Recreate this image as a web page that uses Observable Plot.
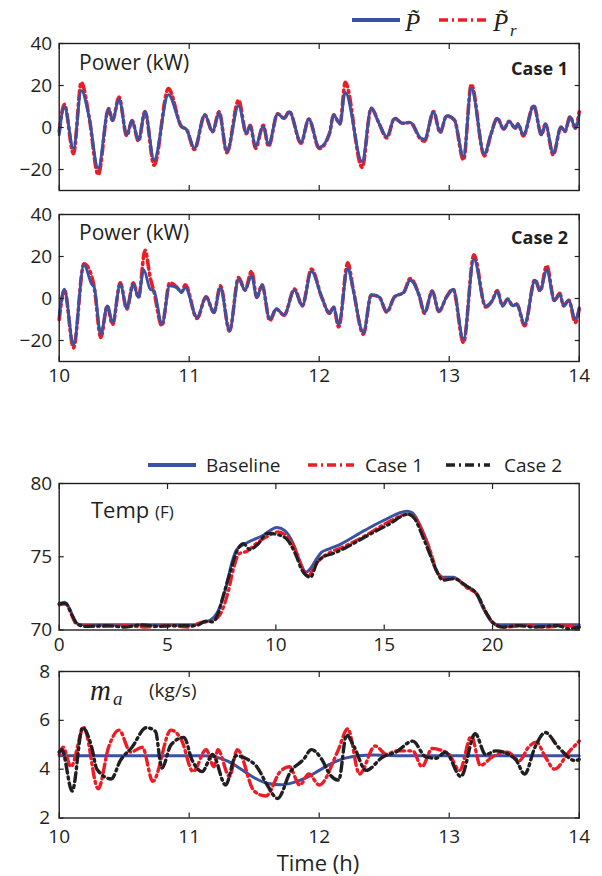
<!DOCTYPE html>
<html><head><meta charset="utf-8">
<script src="https://cdn.jsdelivr.net/npm/d3@7"></script>
<script src="https://cdn.jsdelivr.net/npm/@observablehq/plot@0.6"></script>
<style>
body{margin:0;background:#fff;overflow:hidden;font-family:"Open Sans",sans-serif;color:#231f20}
#root{position:relative;width:602px;height:876px;overflow:hidden}
.p{position:absolute;left:0}
#ov{position:absolute;left:0;top:0;pointer-events:none}
</style></head><body><div id="root"></div>
<script>
// ---------- data ----------
// Panel 1 (Case 1): power tracking, [time h, kW]
const p1P = [[10.00,-3.5],[10.04,10],[10.11,-10],[10.17,17.6],[10.23,5],[10.30,-19.4],[10.38,9],[10.41,3.3],[10.46,13.5],[10.52,-3.5],[10.56,3.3],[10.61,-6],[10.66,7.6],[10.73,-15.4],[10.84,15.6],[10.94,0.5],[10.98,-1],[11.04,-9.8],[11.12,6],[11.18,-2],[11.23,6.8],[11.29,-11.4],[11.38,10.3],[11.44,-2.7],[11.47,0.8],[11.51,-9],[11.57,0.8],[11.61,-8.3],[11.68,6.5],[11.73,4.4],[11.77,7.6],[11.86,-7],[11.92,4],[12.00,-9.4],[12.08,-2.7],[12.11,6],[12.16,1.7],[12.20,16.7],[12.33,-16.2],[12.40,9.2],[12.46,2],[12.52,-4.3],[12.58,4.4],[12.64,2],[12.70,2.4],[12.78,-5],[12.81,-5.6],[12.88,7.6],[12.93,-2.4],[12.98,5.6],[13.04,3.6],[13.11,-13.8],[13.17,18.7],[13.27,-12.5],[13.32,-3.5],[13.37,4.4],[13.42,-0.8],[13.46,2.9],[13.51,-0.3],[13.53,1.7],[13.57,-3.5],[13.65,10.3],[13.71,-3.5],[13.74,1.7],[13.80,-12.2],[13.86,0.2],[13.89,-1.9],[13.93,5.2],[13.97,-0.3],[14.00,6]];
const p1Pr = [[10.00,-2],[10.04,11],[10.11,-12.5],[10.17,21.5],[10.23,5],[10.30,-22.5],[10.38,9],[10.41,3.3],[10.46,14.5],[10.52,-4],[10.56,3.3],[10.61,-6.5],[10.66,7.6],[10.73,-18],[10.84,18.5],[10.94,0.5],[10.98,-1],[11.04,-10.5],[11.12,6],[11.18,-2],[11.23,7.5],[11.29,-12],[11.38,13],[11.44,-3],[11.47,1],[11.51,-10],[11.57,1],[11.61,-9],[11.68,6.5],[11.73,4.4],[11.77,7.6],[11.86,-7.5],[11.92,4],[12.00,-10],[12.08,-2.7],[12.11,6],[12.16,1.7],[12.20,21.5],[12.33,-19],[12.40,9.2],[12.46,2],[12.52,-5],[12.58,4.4],[12.64,2],[12.70,2.4],[12.78,-5.5],[12.81,-6.5],[12.88,7.6],[12.93,-2.4],[12.98,5.6],[13.04,3.6],[13.11,-15.5],[13.17,20.5],[13.27,-13.5],[13.32,-3.5],[13.37,4.4],[13.42,-0.8],[13.46,2.9],[13.51,-0.3],[13.53,1.7],[13.57,-4],[13.65,10.5],[13.71,-3.5],[13.74,1.7],[13.80,-13],[13.86,0.2],[13.89,-1.9],[13.93,5.2],[13.97,-0.3],[14.00,7.5]];
// Panel 2 (Case 2)
const p2P = [[10.00,-8.3],[10.04,4.4],[10.11,-22],[10.19,16],[10.25,6.8],[10.27,5.2],[10.32,-17],[10.37,-3.5],[10.41,-11.4],[10.47,6.8],[10.52,-4.6],[10.57,6.8],[10.61,0.5],[10.65,13.7],[10.70,4.4],[10.73,3.6],[10.79,-12.2],[10.85,6],[10.91,5],[10.94,2.9],[10.97,5.2],[11.06,-9],[11.13,0.8],[11.19,-6.7],[11.24,5.2],[11.31,-15.4],[11.38,9.2],[11.43,4],[11.48,10.8],[11.52,0.5],[11.56,6.3],[11.62,-9.8],[11.67,-5],[11.73,-7.8],[11.81,4],[11.87,-3.5],[11.94,12.9],[12.02,0.5],[12.08,-7.1],[12.11,-4],[12.15,-12.5],[12.22,14.4],[12.26,4.4],[12.34,-16.2],[12.40,1.7],[12.46,0.8],[12.52,-6.2],[12.58,0.8],[12.65,2.9],[12.70,8.7],[12.77,1.3],[12.81,-6.7],[12.87,3.6],[12.92,-6.2],[12.98,0.8],[13.03,4.4],[13.11,-19.4],[13.19,18.7],[13.28,-3.5],[13.33,-1.1],[13.37,3.3],[13.41,-3.5],[13.45,-0.3],[13.49,-3.5],[13.52,-2.7],[13.58,-12.2],[13.66,8.7],[13.70,3.6],[13.75,13.7],[13.81,-1.1],[13.85,2.1],[13.88,-3.5],[13.92,-0.8],[13.97,-9.8],[14.00,-4.3]];
const p2Pr = [[10.00,-10],[10.04,4],[10.11,-23.5],[10.19,16.5],[10.23,14],[10.27,5],[10.32,-18.5],[10.37,-3.5],[10.41,-12.5],[10.47,7.5],[10.52,-5],[10.57,7.5],[10.61,0.5],[10.66,23],[10.70,10],[10.73,3],[10.79,-13],[10.85,7.5],[10.91,5],[10.94,3],[10.97,6.5],[11.06,-9.5],[11.13,0.8],[11.19,-6.7],[11.24,6],[11.31,-15.5],[11.38,10],[11.43,4],[11.48,13],[11.52,0.5],[11.56,6.5],[11.62,-10.5],[11.67,-5],[11.73,-8],[11.81,4.5],[11.87,-3.5],[11.94,14],[12.02,0.5],[12.08,-7],[12.11,-4],[12.15,-13.5],[12.22,17],[12.26,5],[12.34,-17],[12.40,1.7],[12.46,0.8],[12.52,-6.5],[12.58,0.8],[12.65,2.9],[12.70,9.5],[12.77,1.3],[12.81,-7],[12.87,3.6],[12.92,-6.2],[12.98,0.8],[13.03,4.4],[13.11,-21],[13.19,20.8],[13.28,-4],[13.33,-1.1],[13.37,3.8],[13.41,-3.5],[13.45,-0.3],[13.49,-3.5],[13.52,-2.7],[13.58,-13],[13.66,9],[13.70,3.6],[13.75,15.6],[13.81,-1.1],[13.85,2.5],[13.88,-3.5],[13.92,-0.8],[13.97,-11.4],[14.00,-5]];
// Panel 3: temperature (F) over 24 h
const tempBase = [[0,71.8],[0.25,71.9],[0.5,71.4],[0.75,70.5],[1.1,70.35],[2,70.35],[4,70.35],[6.2,70.35],[6.6,70.5],[7.0,70.7],[7.3,71.2],[7.7,72.9],[7.95,74.5],[8.2,75.5],[8.6,75.9],[9.4,76.45],[10.05,77.0],[10.4,76.8],[10.8,75.9],[11.1,74.7],[11.4,73.95],[11.6,74.2],[11.9,74.9],[12.1,75.3],[12.4,75.5],[12.9,75.8],[14.1,76.8],[15.0,77.5],[16.05,78.1],[16.3,78.0],[16.7,77.0],[17.05,75.7],[17.3,74.4],[17.7,73.6],[18.2,73.6],[18.65,73.1],[19.2,72.6],[19.6,71.4],[20.0,70.5],[20.3,70.35],[22,70.35],[24,70.35]];
const tempCase1 = [[0,71.7],[0.3,71.8],[0.55,71.1],[0.8,70.4],[1.2,70.3],[2.0,70.25],[3.0,70.3],[4.0,70.2],[5.0,70.3],[6.0,70.2],[6.5,70.5],[7.0,70.6],[7.4,71.0],[7.8,72.6],[8.05,74.2],[8.3,75.2],[8.7,75.4],[9.0,75.8],[9.5,76.3],[10.1,76.7],[10.5,76.4],[10.9,75.5],[11.2,74.3],[11.5,73.7],[11.8,74.4],[12.1,74.9],[12.5,75.3],[13.0,75.6],[14.2,76.5],[15.1,77.3],[16.1,77.9],[16.4,77.7],[16.8,76.6],[17.15,75.3],[17.4,74.1],[17.8,73.5],[18.3,73.5],[18.8,72.9],[19.3,72.4],[19.7,71.2],[20.1,70.4],[20.5,70.2],[21.5,70.3],[22.5,70.2],[23.3,70.3],[24,70.2]];
const tempCase2 = [[0,71.8],[0.3,71.8],[0.6,71.0],[0.85,70.4],[1.2,70.25],[2.2,70.3],[3.0,70.2],[3.8,70.35],[4.6,70.25],[5.5,70.3],[6.3,70.3],[6.8,70.6],[7.1,70.55],[7.3,71.0],[7.6,72.5],[7.9,74.0],[8.15,75.2],[8.5,75.9],[8.8,75.5],[9.2,75.9],[9.6,76.6],[10.1,76.5],[10.5,76.2],[10.9,75.2],[11.2,74.1],[11.6,73.6],[11.9,74.6],[12.2,75.0],[12.6,75.2],[13.2,75.6],[14.3,76.5],[15.2,77.2],[16.1,77.9],[16.4,77.6],[16.8,76.3],[17.1,75.2],[17.4,74.1],[17.7,73.4],[18.2,73.5],[18.8,73.0],[19.3,72.4],[19.7,71.2],[20.1,70.4],[20.5,70.2],[21.2,70.3],[22.0,70.2],[23.0,70.3],[23.5,70.1],[24,70.2]];
// Panel 4: air mass flow (kg/s)
const maBase = [[10,4.55],[11.1,4.55],[11.2,4.5],[11.3,4.32],[11.4,4.0],[11.5,3.65],[11.6,3.42],[11.7,3.36],[11.8,3.45],[11.9,3.65],[12.0,3.95],[12.1,4.25],[12.2,4.45],[12.3,4.55],[12.42,4.58],[12.6,4.55],[14,4.55]];
const maCase1 = [[10.00,4.6],[10.03,4.9],[10.09,4.1],[10.19,5.7],[10.30,3.2],[10.38,4.9],[10.46,5.6],[10.55,4.7],[10.64,4.9],[10.72,3.5],[10.86,5.6],[10.94,5.2],[11.03,3.9],[11.13,4.8],[11.19,4.1],[11.22,4.8],[11.31,3.7],[11.37,4.8],[11.50,3.1],[11.59,2.9],[11.70,3.9],[11.77,4.1],[11.85,3.35],[11.92,3.8],[12.00,3.35],[12.14,4.7],[12.22,5.65],[12.31,3.8],[12.43,4.95],[12.52,4.6],[12.59,4.75],[12.72,4.75],[12.79,4.1],[12.87,4.85],[12.95,4.75],[13.00,4.6],[13.08,3.95],[13.17,5.35],[13.24,4.15],[13.33,4.5],[13.45,4.7],[13.54,4.35],[13.61,4.9],[13.67,5.1],[13.74,4.5],[13.81,4.0],[13.92,4.7],[14.00,5.15]];
const maCase2 = [[10.00,4.7],[10.02,4.8],[10.10,3.1],[10.18,5.7],[10.25,4.9],[10.29,4.0],[10.40,3.6],[10.47,4.35],[10.56,4.9],[10.67,5.7],[10.74,5.55],[10.79,4.05],[10.86,5.0],[10.96,5.3],[11.02,4.4],[11.10,3.9],[11.18,4.6],[11.28,3.35],[11.36,4.55],[11.45,4.4],[11.52,4.1],[11.60,3.35],[11.68,2.8],[11.78,3.9],[11.88,4.4],[11.94,4.8],[12.02,4.4],[12.08,3.8],[12.15,3.55],[12.21,5.4],[12.27,4.9],[12.36,3.95],[12.49,4.5],[12.59,4.7],[12.72,5.15],[12.82,4.5],[12.90,4.45],[12.97,4.7],[13.09,3.7],[13.20,5.45],[13.28,4.6],[13.36,4.75],[13.51,4.4],[13.58,3.8],[13.66,4.9],[13.74,5.5],[13.84,4.9],[13.97,4.35],[14.00,4.4]];
// ticks
const hourTicks = [10, 11, 12, 13, 14];
const dayTicks = [0, 5, 10, 15, 20];
const powerTicks = [-20, 0, 20, 40];
const tempTicks = [70, 75, 80];
const maTicks = [2, 4, 6, 8];

// ---------- style ----------
const BLUE = "#3953a4", RED = "#ed1c24", BLACK = "#231f20", INK = "#231f20";
const DASH = "9,4,2,4";
const FONT = '"Open Sans", sans-serif';
const fmt = d => d < 0 ? "\u2212" + Math.abs(d) : String(d);
const root = document.getElementById("root");

function panel({top, height, mt, mb, xDomain, xTicks, showX, xPad = 12, yPad = 12, yDomain, yTicks, marks}) {
  const svg = Plot.plot({
    width: 602, height, marginLeft: 58.7, marginRight: 23.3, marginTop: mt, marginBottom: mb,
    x: {domain: xDomain}, y: {domain: yDomain},
    style: {fontFamily: FONT, fontSize: "19px", color: INK, background: "transparent", overflow: "visible"},
    marks: [
      ...marks,
      Plot.frame({stroke: INK, strokeWidth: 1.4}),
      Plot.axisY(yTicks, {anchor: "left", tickSize: -5, tickPadding: yPad, tickFormat: fmt, label: null, strokeWidth: 1.2}),
      Plot.axisY(yTicks, {anchor: "right", tickSize: -5, tickFormat: () => "", label: null, strokeWidth: 1.2}),
      Plot.axisX(xTicks, {anchor: "bottom", tickSize: -5, tickPadding: xPad, tickFormat: showX ? fmt : () => "", label: null, strokeWidth: 1.2}),
      Plot.axisX(xTicks, {anchor: "top", tickSize: -5, tickFormat: () => "", label: null, strokeWidth: 1.2})
    ]
  });
  svg.classList.add("p");
  svg.style.top = top + "px";
  root.appendChild(svg);
}
const X = d => d[0], Y = d => d[1];
const lineOpts = (stroke, w, dash) => ({x: X, y: Y, stroke, strokeWidth: w, strokeDasharray: dash, curve: "monotone-x", strokeLinejoin: "round"});

panel({top: 33, height: 167, mt: 10, mb: 10, xDomain: [10, 14], xTicks: hourTicks, showX: false, yDomain: [-30, 40], yTicks: powerTicks,
  marks: [Plot.line(p1Pr, lineOpts(RED, 3.6, DASH)), Plot.line(p1P, lineOpts(BLUE, 2.8))]});
panel({top: 204, height: 187, mt: 10, mb: 30, xDomain: [10, 14], xTicks: hourTicks, showX: true, yDomain: [-30, 40], yTicks: powerTicks,
  marks: [Plot.line(p2Pr, lineOpts(RED, 3.6, DASH)), Plot.line(p2P, lineOpts(BLUE, 2.8))]});
panel({top: 473, height: 185, mt: 10, mb: 28.5, xDomain: [0, 24], xTicks: dayTicks, showX: true, yDomain: [70, 80], yTicks: tempTicks,
  marks: [Plot.line(tempBase, lineOpts(BLUE, 3)), Plot.line(tempCase1, lineOpts(RED, 3.2, DASH)), Plot.line(tempCase2, lineOpts(BLACK, 3.2, DASH))]});
panel({top: 661, height: 187, mt: 10, mb: 30.5, xDomain: [10, 14], xTicks: hourTicks, showX: true, xPad: 16, yPad: 14, yDomain: [2, 8], yTicks: maTicks,
  marks: [Plot.line(maBase, lineOpts(BLUE, 3)), Plot.line(maCase1, lineOpts(RED, 3.4, DASH)), Plot.line(maCase2, lineOpts(BLACK, 3.4, DASH))]});

// ---------- annotations & legends ----------
const ns = "http://www.w3.org/2000/svg";
const ov = document.createElementNS(ns, "svg");
ov.setAttribute("id", "ov"); ov.setAttribute("width", 602); ov.setAttribute("height", 876);
root.appendChild(ov);
function el(tag, attrs, text) {
  const e = document.createElementNS(ns, tag);
  for (const k in attrs) e.setAttribute(k, attrs[k]);
  if (text != null) e.textContent = text;
  ov.appendChild(e); return e;
}
function swatch(x1, x2, y, stroke, w, dash) {
  el("line", {x1, x2, y1: y, y2: y, stroke, "stroke-width": w, "stroke-dasharray": dash || "none"});
}
const txt = (x, y, s, size, extra = {}) => el("text", {x, y, "font-family": FONT, "font-size": size, fill: INK, ...extra}, s);
const SERIF = '"Liberation Serif", "DejaVu Serif", serif';

// legend 1
swatch(352, 400, 20, BLUE, 4);
txt(405, 31, "P\u0303", 25, {"font-family": SERIF, "font-style": "italic"});
swatch(439, 487, 20, RED, 3.6, DASH);
txt(493, 31, "P\u0303", 25, {"font-family": SERIF, "font-style": "italic"});
txt(510, 36, "r", 17, {"font-family": SERIF, "font-style": "italic"});

// panel labels
txt(79, 70, "Power (kW)", 21);
txt(568, 75, "Case 1", 18, {"text-anchor": "end", "font-weight": "bold"});
txt(79, 240, "Power (kW)", 21);
txt(568, 244, "Case 2", 18, {"text-anchor": "end", "font-weight": "bold"});

// legend 2
swatch(148, 196, 465, BLUE, 4);
txt(206, 472, "Baseline", 19);
swatch(308, 354, 465, RED, 3.4, DASH);
txt(365, 472, "Case 1", 19);
swatch(446, 490, 465, BLACK, 3.4, DASH);
txt(504, 472, "Case 2", 19);

// temp label
const t = txt(91, 518, "Temp ", 22);
const ts = document.createElementNS(ns, "tspan"); ts.setAttribute("font-size", 17); ts.textContent = "(F)"; t.appendChild(ts);

// m_a label
txt(90, 700, "m", 29, {"font-family": SERIF, "font-style": "italic"});
txt(113, 705, "a", 19, {"font-family": SERIF, "font-style": "italic"});
txt(149, 697, "(kg/s)", 19);

// x title
txt(318, 871, "Time (h)", 22, {"text-anchor": "middle"});
</script></body></html>
